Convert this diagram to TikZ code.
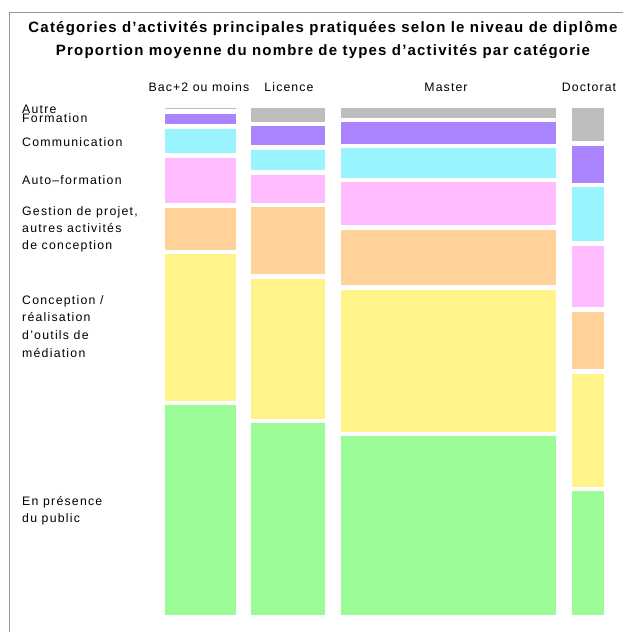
\documentclass[tikz,border=0pt]{standalone}
\usepackage{fontspec}
\setmainfont{Liberation Sans}
\newfontfamily\lblfont[LetterSpace=10]{Liberation Sans}
\newfontfamily\hdrfont[LetterSpace=9]{Liberation Sans}
\newfontfamily\ttlfont[LetterSpace=8]{Liberation Sans}
\definecolor{cAutre}{RGB}{190,190,190}
\definecolor{cForm}{RGB}{170,132,255}
\definecolor{cComm}{RGB}{153,244,255}
\definecolor{cAuto}{RGB}{255,187,255}
\definecolor{cGest}{RGB}{255,210,153}
\definecolor{cConc}{RGB}{255,243,138}
\definecolor{cPub}{RGB}{155,251,151}
\definecolor{framecol}{RGB}{150,150,150}
\tikzset{
  lbl/.style={anchor=base west, inner sep=0pt, align=left,
    font=\lblfont\fontsize{12.3bp}{17bp}\selectfont},
  lblwide/.style={lbl, font=\lblfont\fontsize{12.3bp}{17.6bp}\selectfont},
  hdr/.style={anchor=base, inner sep=0pt,
    font=\hdrfont\fontsize{12.3bp}{14bp}\selectfont},
  ttl/.style={anchor=base, inner sep=0pt,
    font=\ttlfont\bfseries\fontsize{15bp}{17bp}\selectfont},
  seg/.style={draw=white, line width=0.4bp}
}
% \mosaicseg{left}{right}{top}{bottom}{colour}
\newcommand{\mosaicseg}[5]{\filldraw[seg, fill=#5] (#1,#3) rectangle (#2,#4);}
\begin{document}
\begin{tikzpicture}[x=1bp, y=-1bp]
\useasboundingbox (0,0) rectangle (623,632);
% frame
\draw[framecol, line width=1.3bp] (9.5,632) -- (9.5,12.5) -- (623,12.5);
% title
\node[ttl] (t1) at (323,33) {Catégories d’activités principales pratiquées selon le niveau de diplôme};
\node[ttl] (t2) at (323,55.5) {Proportion moyenne du nombre de types d’activités par catégorie};
% column headers
\node[hdr] (hBac) at (199,91.5) {Bac+2 ou moins};
\node[hdr] (hLic) at (289,91.5) {Licence};
\node[hdr] (hMas) at (446,91.5) {Master};
\node[hdr] (hDoc) at (589,91.5) {Doctorat};
% row labels (base anchor = baseline of the last line)
\node[lbl] (lAutre) at (22,113.3) {Autre};
\node[lbl] (lForm) at (22,122.7) {Formation};
\node[lbl] (lComm) at (22,146.5) {Communication};
\node[lbl] (lAuto) at (22,185) {Auto–formation};
\node[lbl] (lGest) at (22,249.5) {Gestion de projet,\\autres activités\\de conception};
\node[lblwide] (lConc) at (22,357) {Conception /\\réalisation\\d’outils de\\médiation};
\node[lbl] (lPub) at (22,522.5) {En présence\\du public};
% Bac+2 ou moins
\mosaicseg{164}{236}{107.3}{109.7}{cAutre}
\mosaicseg{164}{236}{113.7}{124.7}{cForm}
\mosaicseg{164}{236}{128}{153.3}{cComm}
\mosaicseg{164}{236}{157}{203.3}{cAuto}
\mosaicseg{164}{236}{206.7}{250}{cGest}
\mosaicseg{164}{236}{253.3}{400.7}{cConc}
\mosaicseg{164}{236}{403.7}{615}{cPub}
% Licence
\mosaicseg{250}{325}{107.3}{122}{cAutre}
\mosaicseg{250}{325}{125.7}{145.7}{cForm}
\mosaicseg{250}{325}{149.3}{170.3}{cComm}
\mosaicseg{250}{325}{174}{203.3}{cAuto}
\mosaicseg{250}{325}{206.3}{274}{cGest}
\mosaicseg{250}{325}{277.7}{419}{cConc}
\mosaicseg{250}{325}{422}{615}{cPub}
% Master
\mosaicseg{340}{556}{107.3}{118.3}{cAutre}
\mosaicseg{340}{556}{121.7}{144.3}{cForm}
\mosaicseg{340}{556}{147.7}{177.7}{cComm}
\mosaicseg{340}{556}{181}{225}{cAuto}
\mosaicseg{340}{556}{229}{285.3}{cGest}
\mosaicseg{340}{556}{288.7}{432}{cConc}
\mosaicseg{340}{556}{435}{615}{cPub}
% Doctorat
\mosaicseg{571}{604.3}{107.3}{141.7}{cAutre}
\mosaicseg{571}{604.3}{145}{183}{cForm}
\mosaicseg{571}{604.3}{186.3}{241}{cComm}
\mosaicseg{571}{604.3}{244.7}{306.7}{cAuto}
\mosaicseg{571}{604.3}{310.7}{369}{cGest}
\mosaicseg{571}{604.3}{372.7}{486.7}{cConc}
\mosaicseg{571}{604.3}{490}{615}{cPub}
\end{tikzpicture}
\end{document}
